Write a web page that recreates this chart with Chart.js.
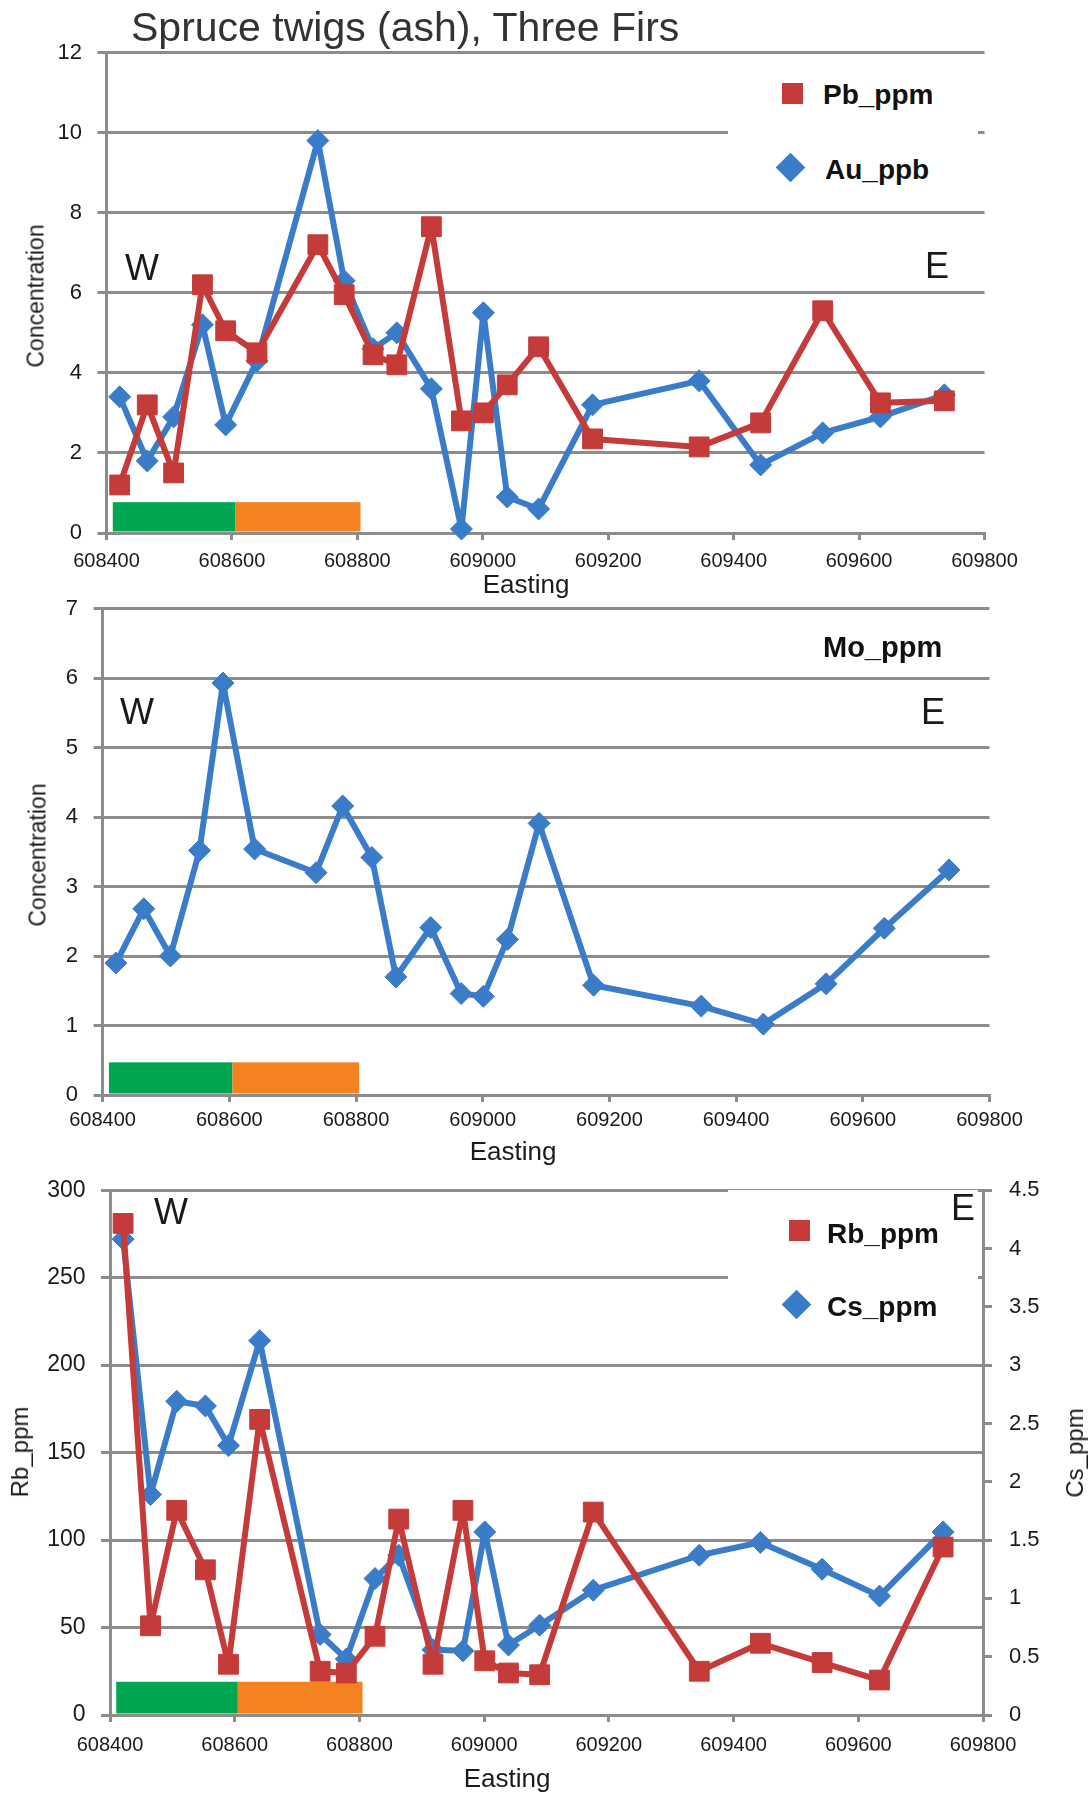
<!DOCTYPE html>
<html>
<head>
<meta charset="utf-8">
<script src="https://cdn.jsdelivr.net/npm/chart.js@4.4.1/dist/chart.umd.min.js"></script>
<style>
  body { margin: 0; background: #fff; width: 1091px; height: 1794px; position: relative; overflow: hidden;
         font-family: "Liberation Sans", Arial, sans-serif; color: #1a1a1a; }
  canvas { position: absolute; left: 0; }
  .lbl { position: absolute; white-space: nowrap; line-height: 1; }
  .mid { transform: translate(-50%, -50%); }
  .lft { transform: translateY(-50%); }
  .rot { transform: translate(-50%, -50%) rotate(-90deg); }
  .box { position: absolute; background: #fff; }
  .mark { position: absolute; width: 21px; height: 21px; }
  .leg { font-weight: bold; font-size: 28px; color: #111; }
  .we { font-size: 36px; color: #1a1a1a; }
</style>
</head>
<body>
<canvas id="c1" width="1091" height="580" style="top:0px"></canvas>
<canvas id="c2" width="1091" height="580" style="top:580px"></canvas>
<canvas id="c3" width="1091" height="634" style="top:1160px"></canvas>

<!-- chart 1 texts -->
<div class="lbl lft" style="left:131px; top:27px; font-size:41px; color:#333;">Spruce twigs (ash), Three Firs</div>
<div class="lbl mid we" style="left:142px; top:268px;">W</div>
<div class="lbl mid we" style="left:937px; top:266px;">E</div>
<div class="box" style="left:728px; top:56px; width:250px; height:154px;"></div>
<div class="mark" style="left:782px; top:83px; background:#c43b3a;"></div>
<div class="mark" style="left:779.5px; top:156.5px; background:#3a7cc8; transform:rotate(45deg);"></div>
<div class="lbl lft leg" style="left:823px; top:95px;">Pb_ppm</div>
<div class="lbl lft leg" style="left:825px; top:170px;">Au_ppb</div>
<div class="lbl rot" style="left:36px; top:296px; font-size:23px;">Concentration</div>
<div class="lbl mid" style="left:526px; top:584px; font-size:26px;">Easting</div>

<!-- chart 2 texts -->
<div class="lbl mid we" style="left:137px; top:712px;">W</div>
<div class="lbl mid we" style="left:933px; top:712px;">E</div>
<div class="lbl lft leg" style="left:823px; top:647px; font-size:29px;">Mo_ppm</div>
<div class="lbl rot" style="left:38px; top:855px; font-size:23px;">Concentration</div>
<div class="lbl mid" style="left:513px; top:1151px; font-size:26px;">Easting</div>

<!-- chart 3 texts -->
<div class="box" style="left:728px; top:1190px; width:250px; height:166px;"></div>
<div class="lbl mid we" style="left:171px; top:1212px;">W</div>
<div class="lbl mid we" style="left:963px; top:1208px;">E</div>
<div class="mark" style="left:788.5px; top:1219.5px; background:#c43b3a;"></div>
<div class="mark" style="left:785.5px; top:1293.5px; background:#3a7cc8; transform:rotate(45deg);"></div>
<div class="lbl lft leg" style="left:827px; top:1234px;">Rb_ppm</div>
<div class="lbl lft leg" style="left:827px; top:1307px;">Cs_ppm</div>
<div class="lbl rot" style="left:20px; top:1452px; font-size:24px;">Rb_ppm</div>
<div class="lbl rot" style="left:1075px; top:1453px; font-size:24px;">Cs_ppm</div>
<div class="lbl mid" style="left:507px; top:1778px; font-size:26px;">Easting</div>

<script>
// Sample locations (easting), shared by all three panels
const easting = [608421, 608465, 608507, 608553, 608590, 608640, 608737, 608779, 608825, 608863,
  608918, 608966, 609001, 609039, 609089, 609175, 609345, 609443, 609542, 609634, 609736];

// Panel 1
const pbPpm = [1.2, 3.2, 1.5, 6.2, 5.05, 4.5, 7.2, 5.95, 4.45, 4.2,
  7.65, 2.8, 3.0, 3.7, 4.65, 2.35, 2.15, 2.75, 5.55, 3.25, 3.3];
const auPpb = [3.4, 1.8, 2.9, 5.2, 2.7, 4.3, 9.8, 6.3, 4.6, 5.0,
  3.6, 0.1, 5.5, 0.9, 0.6, 3.2, 3.8, 1.7, 2.5, 2.9, 3.45];

// Panel 2
const moPpm = [1.9, 2.68, 2.0, 3.52, 5.93, 3.54, 3.2, 4.16, 3.42, 1.7,
  2.41, 1.46, 1.42, 2.24, 3.91, 1.58, 1.28, 1.02, 1.6, 2.4, 3.24];

// Panel 3
const rbPpm = [281, 51, 117, 83, 29, 169, 25, 24, 45, 112,
  29, 117, 31, 24, 23, 116, 25, 41, 30, 20, 96];
const csPpm = [4.08, 1.89, 2.69, 2.65, 2.31, 3.21, 0.69, 0.48, 1.17, 1.37,
  0.56, 0.55, 1.57, 0.6, 0.77, 1.07, 1.37, 1.48, 1.25, 1.02, 1.57];

// Coloured zones along the bottom of each panel
const zoneFrom = [608410, 608605];
const zoneTo = [608605, 608805];
const zoneColors = ["#00a651", "#f48221"];

// axis ranges / ticks
const eastMin = 608400, eastMax = 609800, eastStep = 200;

const RED = "#c43b3a";
const BLUE = "#3a7cc8";
const GRID = "#8c8c8c";

Chart.defaults.font.family = '"Liberation Sans", Arial, sans-serif';
Chart.defaults.color = "#1a1a1a";

const pts = (vals) => vals.map((v, i) => ({ x: easting[i], y: v }));

// draws the green / orange zone bars through the scales
const zonePlugin = {
  id: "zones",
  beforeDatasetsDraw(chart, args, opts) {
    const { ctx } = chart;
    const x = chart.scales.x;
    const y = chart.scales.y;
    ctx.save();
    zoneFrom.forEach((from, i) => {
      const left = x.getPixelForValue(from);
      const right = x.getPixelForValue(zoneTo[i]);
      const top = y.getPixelForValue(opts.height);
      const bottom = y.getPixelForValue(0) - 1.5;
      ctx.fillStyle = zoneColors[i];
      ctx.fillRect(left, top, right - left, bottom - top);
    });
    ctx.restore();
  },
};

const series = (data, color, style) => ({
  data: data,
  borderColor: color,
  backgroundColor: color,
  borderWidth: 6,
  borderJoinStyle: "round",
  borderCapStyle: "round",
  pointStyle: style,
  pointRadius: style === "rect" ? 14 : 11,
  pointBorderWidth: 1,
  tension: 0,
  clip: false,
});

const xAxis = (height, pad) => ({
  type: "linear",
  min: eastMin,
  max: eastMax,
  afterFit: (s) => { s.height = height; },
  ticks: { stepSize: eastStep, font: { size: 20 }, padding: pad, maxRotation: 0, callback: (v) => String(v) },
  grid: { drawOnChartArea: false, drawTicks: true, tickLength: 7, color: GRID, lineWidth: 3 },
  border: { display: true, color: GRID, width: 3 },
});

const yAxis = (width, max, step, size) => ({
  min: 0,
  max: max,
  afterFit: (s) => { s.width = width; },
  ticks: { stepSize: step, font: { size: size }, padding: 15.5, callback: (v) => String(v) },
  grid: { color: GRID, lineWidth: 3, tickLength: 9 },
  border: { display: true, color: GRID, width: 3 },
});

const common = (padding, zoneH) => ({
  responsive: false,
  animation: false,
  layout: { padding: padding },
  plugins: { legend: { display: false }, tooltip: { enabled: false }, zones: { height: zoneH } },
});

// Panel 1: Pb and Au
new Chart(document.getElementById("c1"), {
  type: "line",
  data: { datasets: [series(pts(pbPpm), RED, "rect"), series(pts(auPpb), BLUE, "rectRot")] },
  options: {
    ...common({ top: 52.5, left: 0, right: 106.5, bottom: 0 }, 0.77),
    scales: { x: xAxis(47, 9), y: yAxis(106.5, 12, 2, 22) },
  },
  plugins: [zonePlugin],
});

// Panel 2: Mo
new Chart(document.getElementById("c2"), {
  type: "line",
  data: { datasets: [series(pts(moPpm), BLUE, "rectRot")] },
  options: {
    ...common({ top: 27.3, left: 0, right: 101.5, bottom: 0 }, 0.47),
    scales: { x: xAxis(65, 6.5), y: yAxis(102.6, 7, 1, 22) },
  },
  plugins: [zonePlugin],
});

// Panel 3: Rb (left) and Cs (right)
const y2 = yAxis(108, 4.5, 0.5, 22);
y2.position = "right";
y2.ticks.padding = 17;
y2.grid = { drawOnChartArea: false, drawTicks: true, tickLength: 9, color: GRID, lineWidth: 3 };

const rbSet = series(pts(rbPpm), RED, "rect");
rbSet.yAxisID = "y";
const csSet = series(pts(csPpm), BLUE, "rectRot");
csSet.yAxisID = "y2";

new Chart(document.getElementById("c3"), {
  type: "line",
  data: { datasets: [rbSet, csSet] },
  options: {
    ...common({ top: 26, left: 0, right: 0, bottom: 0 }, 19),
    scales: { x: xAxis(79, 11.5), y: yAxis(110, 300, 50, 23), y2: y2 },
  },
  plugins: [zonePlugin],
});
</script>
</body>
</html>
